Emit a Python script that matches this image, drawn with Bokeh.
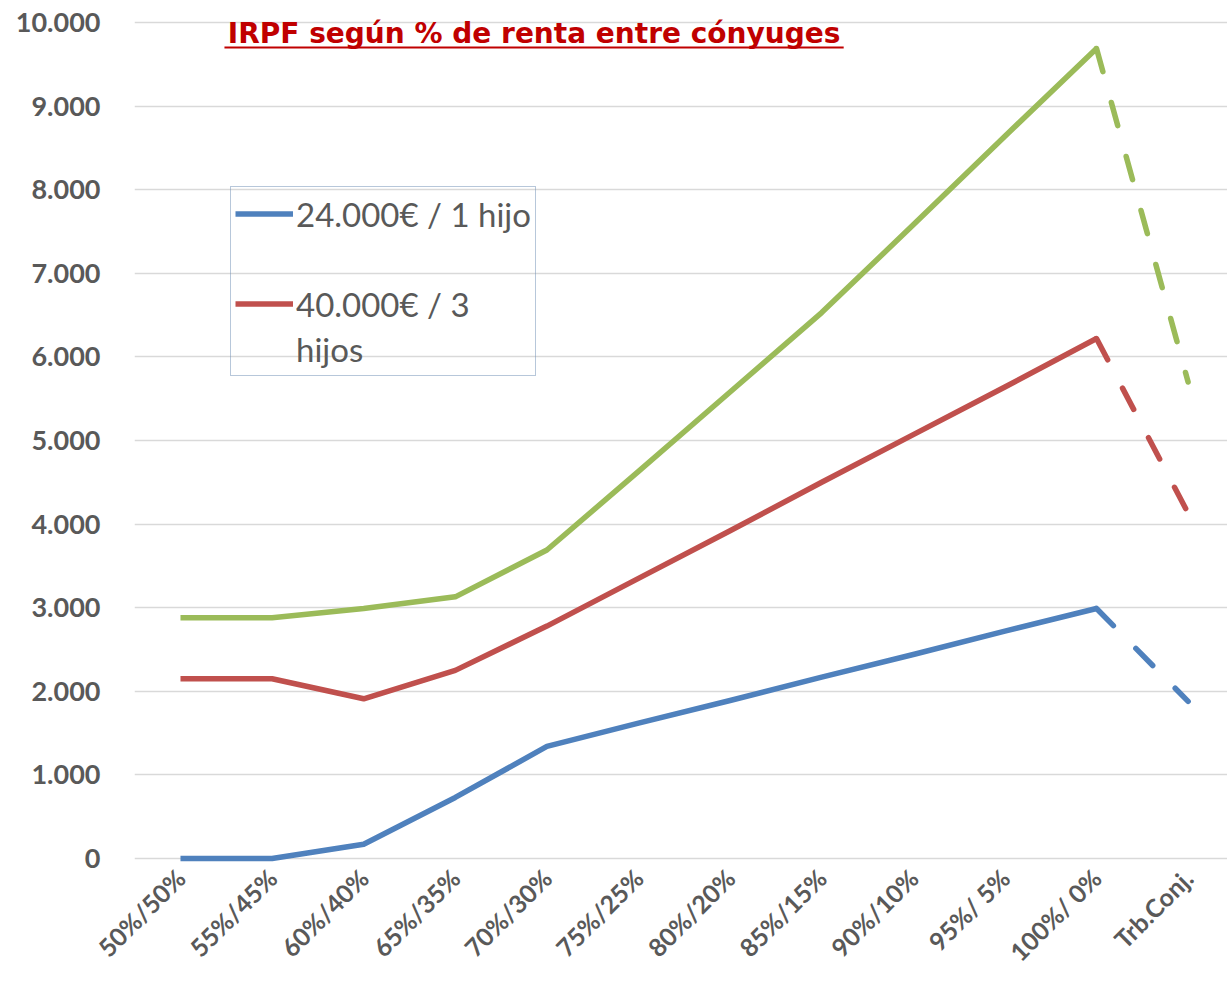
import math
from bokeh.plotting import figure
from bokeh.models import (Range1d, FixedTicker, Label, BoxAnnotation, Legend, LegendItem)
from bokeh.embed import file_html
from bokeh.resources import INLINE

# ---- data ----
categories = ["50%/50%", "55%/45%", "60%/40%", "65%/35%", "70%/30%", "75%/25%",
              "80%/20%", "85%/15%", "90%/10%", "95%/ 5%", "100%/ 0%", "Trb.Conj."]
serie_24k_1hijo = [0, 0, 170, 730, 1340, 1620, 1890, 2170, 2440, 2720, 2990, 1880]
serie_40k_3hijos = [2150, 2150, 1910, 2250, 2780, 3350, 3920, 4500, 5070, 5640, 6220, 4130]
serie_verde = [2880, 2880, 2990, 3130, 3690, 4630, 5580, 6530, 7580, 8640, 9690, 5700]
y_ticks = [0, 1000, 2000, 3000, 4000, 5000, 6000, 7000, 8000, 9000, 10000]
y_tick_labels = ["0", "1.000", "2.000", "3.000", "4.000", "5.000",
                 "6.000", "7.000", "8.000", "9.000", "10.000"]
title_text = "IRPF según % de renta entre cónyuges"
legend_labels = ["24.000€ / 1 hijo", "40.000€ / 3", "hijos"]

BLUE = "#4F81BD"
RED = "#C0504D"
GREEN = "#9BBB59"
GRAY = "#595959"

p = figure(width=1227, height=981, output_backend="svg", toolbar_location=None,
           x_range=Range1d(-0.502, 11.43), y_range=Range1d(-84, 10096),
           min_border_left=134, min_border_right=0, min_border_top=14, min_border_bottom=116)
p.outline_line_color = None
p.background_fill_color = "white"

xs = list(range(len(categories)))
n = len(categories) - 1

renderers = {}
for ys, col in [(serie_24k_1hijo, BLUE), (serie_40k_3hijos, RED), (serie_verde, GREEN)]:
    r = p.line(xs[:n], ys[:n], line_color=col, line_width=5.5, line_join="round")
    p.line(xs[n - 1:], ys[n - 1:], line_color=col, line_width=5.5, line_dash="24 32",
           line_cap="round")
    renderers[col] = r

# axes
p.xaxis.ticker = FixedTicker(ticks=xs)
p.xaxis.major_label_overrides = {i: c for i, c in enumerate(categories)}
p.xaxis.major_label_orientation = math.pi / 4
p.yaxis.ticker = FixedTicker(ticks=y_ticks)
p.yaxis.major_label_overrides = {v: l for v, l in zip(y_ticks, y_tick_labels)}
for ax in (p.xaxis, p.yaxis):
    ax.axis_line_color = None
    ax.major_tick_line_color = None
    ax.minor_tick_line_color = None
    ax.major_label_text_font = "Lato"
    ax.major_label_text_font_style = "bold"
    ax.major_label_text_color = GRAY
p.xaxis.major_label_text_font_size = "25px"
p.yaxis.major_label_text_font_size = "27px"
p.yaxis.major_label_standoff = 28
p.xaxis.major_label_standoff = 2

p.xgrid.grid_line_color = None
p.ygrid.ticker = FixedTicker(ticks=y_ticks)
p.ygrid.grid_line_color = "#d9d9d9"
p.ygrid.grid_line_width = 1.3

# title with underline
p.add_layout(Label(x=3.86, y=9868, text=title_text, text_align="center",
                   text_baseline="alphabetic", text_font="DejaVu Sans",
                   text_font_style="bold", text_font_size="28px", text_color="#C00000"))
p.add_layout(BoxAnnotation(left=0.48, right=7.24, top=9713, bottom=9689,
                           fill_color="#C00000", fill_alpha=1.0, line_alpha=0))

# legend
dummy = p.line([], [], line_alpha=0)
legend = Legend(items=[
    LegendItem(label=legend_labels[0], renderers=[renderers[BLUE]]),
    LegendItem(label=" ", renderers=[dummy]),
    LegendItem(label=legend_labels[1], renderers=[renderers[RED]]),
    LegendItem(label=legend_labels[2], renderers=[dummy]),
], location=(96, 489), orientation="vertical")
legend.padding = 4
legend.spacing = 0
legend.margin = 0
legend.glyph_width = 58
legend.glyph_height = 45
legend.label_height = 45
legend.label_standoff = 3
legend.label_text_font = "Lato"
legend.label_text_font_size = "33px"
legend.label_text_color = GRAY
legend.border_line_color = "#6F8FB5"
legend.border_line_width = 1
legend.background_fill_alpha = 0
p.add_layout(legend, "center")

open("out.html", "w").write(file_html(p, INLINE))
